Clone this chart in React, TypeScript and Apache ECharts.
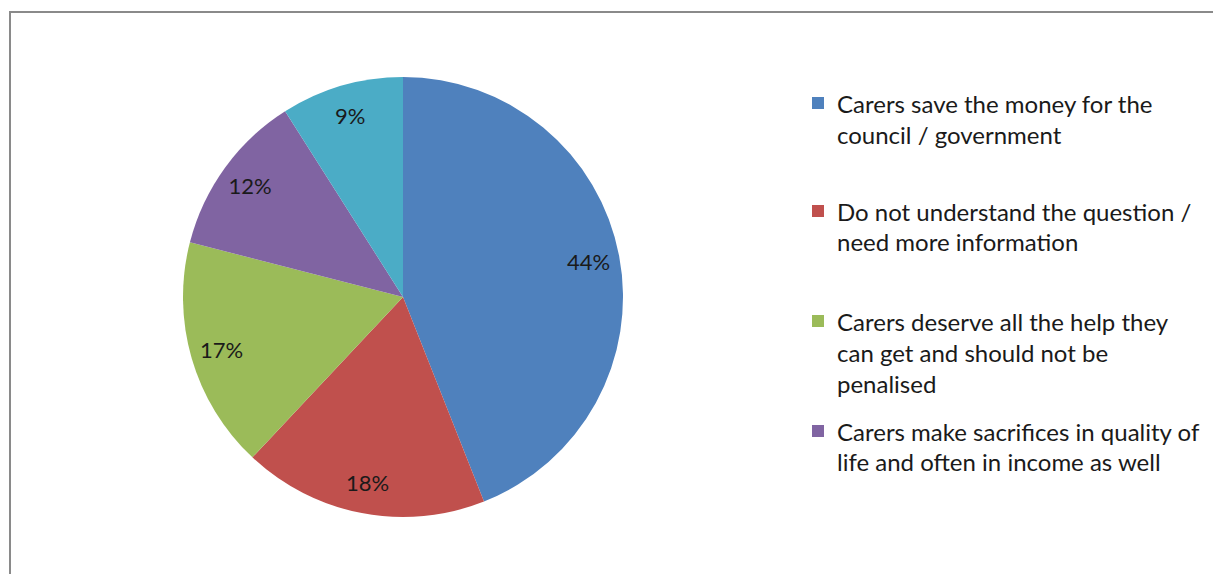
import React, { useEffect, useRef } from "react";
import * as echarts from "echarts";

const categories = [
  "Carers save the money for the council / government",
  "Do not understand the question / need more information",
  "Carers deserve all the help they can get and should not be penalised",
  "Carers make sacrifices in quality of life and often in income as well",
  "Other",
];
const values = [44, 18, 17, 12, 9];
const colors = ["#4F81BD", "#C0504D", "#9BBB59", "#8064A2", "#4BACC6"];
const legendNames = categories.slice(0, 4);
const legendWrapped = [
  "Carers save the money for the\ncouncil / government",
  "Do not understand the question /\nneed more information",
  "Carers deserve all the help they\ncan get and should not be\npenalised",
  "Carers make sacrifices in quality of\nlife and often in income as well",
];

export default function App() {
  const ref = useRef<HTMLDivElement>(null);
  useEffect(() => {
    const chart = echarts.init(ref.current!, null, { renderer: "svg" });
    const font = "Lato";
    const iconCenters = [103, 211, 321, 431];
    const lineHeights = [31, 30, 31, 30];
    const legends = legendNames.map((name, i) => {
      const lines = legendWrapped[i].split("\n");
      const n = lines.length;
      const lh = lineHeights[i];
      // prepend empty lines so the first real line is centred on the icon
      const padded = Array(n - 1).fill(" ").concat(lines).join("\n");
      return {
        data: [name],
        orient: "vertical",
        left: 812,
        top: iconCenters[i] - ((2 * n - 1) * lh) / 2,
        padding: 0,
        itemWidth: 12,
        itemHeight: 12,
        icon: "rect",
        selectedMode: false,
        formatter: () => padded,
        textStyle: {
          fontFamily: font,
          fontSize: 24,
          color: "#1a1a1a",
          lineHeight: lh,
          padding: [0, 0, 0, 8],
          backgroundColor: "transparent",
        },
      };
    });
    const data = categories.map((name, i) => ({
      name,
      value: values[i],
      itemStyle: { color: colors[i] },
    }));
    chart.setOption({
      animation: false,
      backgroundColor: "#ffffff",
      legend: legends,
      graphic: [
        {
          type: "rect",
          x: 10,
          y: 12,
          shape: { x: 0, y: 0, width: 1400, height: 800 },
          style: { fill: "none", stroke: "#8a8a8a", lineWidth: 2 },
          silent: true,
          z: -10,
        },
      ],
      series: [
        {
          type: "pie",
          center: [403, 297],
          radius: 220,
          startAngle: 90,
          clockwise: true,
          data,
          label: { show: false },
          labelLine: { show: false },
          itemStyle: { borderWidth: 0 },
          silent: true,
        },
        {
          type: "pie",
          center: [403, 297],
          radius: [152, 220],
          startAngle: 90,
          clockwise: true,
          data: categories.map((name, i) => ({ name, value: values[i] })),
          itemStyle: { color: "transparent", borderWidth: 0 },
          label: {
            show: true,
            position: "inside",
            formatter: "{c}%",
            fontFamily: font,
            fontSize: 22,
            color: "#1a1a1a",
          },
          labelLine: { show: false },
          silent: true,
        },
      ],
    });
    return () => chart.dispose();
  }, []);
  return (
    <div
      ref={ref}
      style={{ position: "fixed", left: 0, top: 0, width: 1213, height: 574, background: "#fff" }}
    />
  );
}
